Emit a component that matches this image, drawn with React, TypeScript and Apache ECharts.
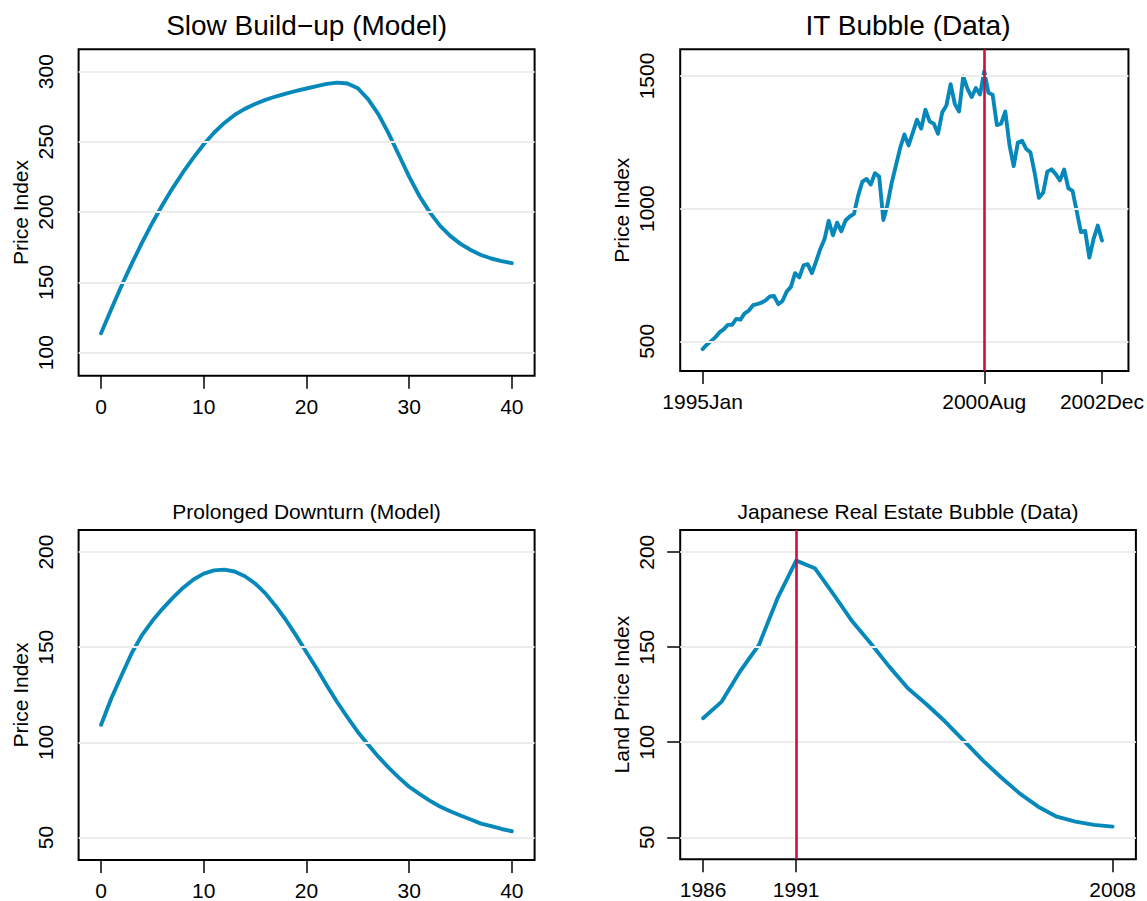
import React, { useEffect, useRef } from "react";
import * as echarts from "echarts";

// ---------- data ----------
const modelSteps = [0, 1, 2, 3, 4, 5, 6, 7, 8, 9, 10, 11, 12, 13, 14, 15, 16, 17, 18, 19, 20, 21, 22, 23, 24, 25, 26, 27, 28, 29, 30, 31, 32, 33, 34, 35, 36, 37, 38, 39, 40];
const slowBuildUp = [113.8, 131.0, 147.8, 163.5, 178.5, 192.5, 205.5, 217.5, 228.6, 238.8, 248.3, 256.5, 263.5, 269.2, 273.5, 277.0, 279.9, 282.3, 284.4, 286.3, 288.0, 289.7, 291.3, 292.2, 291.6, 288.2, 280.5, 269.8, 256.1, 240.7, 225.3, 211.5, 200.0, 190.4, 183.1, 177.4, 173.1, 169.5, 167.0, 165.2, 163.7];
const prolongedDownturn = [109.3, 123.2, 135.3, 147.1, 156.5, 163.9, 170.3, 176.1, 181.3, 185.6, 188.7, 190.4, 190.8, 189.8, 187.3, 183.5, 178.3, 171.7, 164.3, 156.1, 147.4, 138.8, 129.8, 121.1, 113.1, 105.5, 98.9, 92.5, 86.7, 81.5, 76.7, 72.9, 69.4, 66.3, 63.8, 61.6, 59.5, 57.3, 56.0, 54.5, 53.3];

// IT bubble: monthly index, 1995 Jan .. 2002 Dec (month number 0..95)
const itIndex = [
  470.4, 487.4, 500.7, 514.7, 533.4, 544.8, 562.1, 561.9, 584.4, 581.5, 605.4, 615.9,
  636.0, 640.4, 645.5, 654.2, 669.1, 670.6, 640.0, 652.0, 687.3, 705.3, 757.0, 740.7,
  786.2, 790.8, 757.1, 801.3, 848.3, 885.1, 954.3, 899.5, 947.3, 914.6, 955.4, 970.4,
  980.3, 1049.3, 1101.8, 1111.8, 1090.8, 1133.8, 1120.7, 957.3, 1017.0, 1098.7, 1163.6, 1229.2,
  1279.6, 1238.3, 1286.4, 1335.2, 1301.8, 1372.7, 1328.7, 1320.4, 1282.7, 1362.9, 1388.9, 1469.3,
  1394.5, 1366.4, 1498.6, 1452.4, 1420.6, 1454.6, 1430.8, 1517.7, 1436.5, 1429.4, 1315.0, 1320.3,
  1366.0, 1239.9, 1160.3, 1249.5, 1255.8, 1224.4, 1211.2, 1133.6, 1040.9, 1059.8, 1139.5, 1148.1,
  1130.2, 1106.7, 1147.4, 1076.9, 1067.1, 989.8, 911.6, 916.1, 815.3, 885.8, 936.3, 879.8,
];
const itTickMonths = [0, 67, 95];
const itTickLabels = ["1995Jan", "2000Aug", "2002Dec"];
const itPeakMonth = 67;

const japanYears = [1986, 1987, 1988, 1989, 1990, 1991, 1992, 1993, 1994, 1995, 1996, 1997, 1998, 1999, 2000, 2001, 2002, 2003, 2004, 2005, 2006, 2007, 2008];
const japanLand = [112.6, 121.4, 137.5, 151.2, 175.8, 195.6, 191.6, 177.9, 163.8, 152.1, 139.8, 128.4, 120.0, 110.9, 100.9, 90.7, 81.6, 73.1, 66.1, 60.8, 58.2, 56.5, 55.6];
const japanTickYears = [1986, 1991, 2008];
const japanPeakYear = 1991;

const modelXTicks = [0, 10, 20, 30, 40];
const slowYTicks = [100, 150, 200, 250, 300];
const itYTicks = [500, 1000, 1500];
const downYTicks = [50, 100, 150, 200];
const japanYTicks = [50, 100, 150, 200];

const titles = ["Slow Build\u2212up (Model)", "IT Bubble (Data)", "Prolonged Downturn (Model)", "Japanese Real Estate Bubble (Data)"];

// ---------- styling ----------
const FONT = '"Liberation Sans", Arial, Helvetica, sans-serif';
const BLUE = "#0689ba";
const RED = "#cc1040";
const GRID_GRAY = "#ececec";
const LABEL_SIZE = 21;

const grids = [
  { left: 78.6, top: 49.3, width: 456, height: 326.4 },
  { left: 680.2, top: 49.3, width: 455.7, height: 321.7 },
  { left: 78.6, top: 530, width: 456, height: 333.3 },
  { left: 680.2, top: 530, width: 455.7, height: 329.3 },
];

function xAxis(gridIndex: number, min: number, max: number, ticks: number[], fmt?: (v: number) => string) {
  return {
    type: "value",
    gridIndex,
    min,
    max,
    axisLine: { show: false },
    splitLine: { show: false },
    axisTick: { show: true, length: 13, customValues: ticks, lineStyle: { color: "#000", width: 1.5 } },
    axisLabel: {
      customValues: ticks,
      margin: 20,
      fontSize: LABEL_SIZE,
      color: "#000",
      fontFamily: FONT,
      formatter: fmt ? (v: number) => fmt(v) : (v: number) => String(v),
    },
  };
}

function yAxis(gridIndex: number, min: number, max: number, ticks: number[], name: string) {
  return {
    type: "value",
    gridIndex,
    min,
    max,
    name,
    nameLocation: "middle",
    nameGap: 48,
    nameTextStyle: { fontSize: LABEL_SIZE, color: "#000", fontFamily: FONT },
    axisLine: { show: false },
    splitLine: { show: false },
    axisTick: { show: true, length: 13, customValues: ticks, lineStyle: { color: "#000", width: 1.5 } },
    axisLabel: {
      customValues: ticks,
      rotate: 90,
      margin: 23,
      fontSize: LABEL_SIZE,
      color: "#000",
      fontFamily: FONT,
      formatter: (v: number) => String(v),
    },
  };
}

function gridLines(i: number, ticks: number[]) {
  return {
    type: "line",
    xAxisIndex: i,
    yAxisIndex: i,
    data: [],
    silent: true,
    z: 1,
    markLine: {
      silent: true,
      symbol: ["none", "none"],
      label: { show: false },
      lineStyle: { color: GRID_GRAY, width: 2, type: "solid" },
      data: ticks.map((v) => ({ yAxis: v })),
    },
  };
}

function dataLine(i: number, xs: number[], ys: number[]) {
  return {
    type: "line",
    xAxisIndex: i,
    yAxisIndex: i,
    data: xs.map((x, k) => [x, ys[k]]),
    showSymbol: false,
    symbol: "none",
    z: 3,
    lineStyle: { color: BLUE, width: 3.9, cap: "round", join: "round" },
  };
}

function vLine(i: number, x: number) {
  return {
    type: "line",
    xAxisIndex: i,
    yAxisIndex: i,
    data: [],
    silent: true,
    z: 2,
    markLine: {
      silent: true,
      symbol: ["none", "none"],
      label: { show: false },
      lineStyle: { color: RED, width: 2.6, type: "solid" },
      data: [{ xAxis: x }],
    },
  };
}

export default function App() {
  const ref = useRef<HTMLDivElement>(null);
  useEffect(() => {
    document.body.style.margin = "0";
    const chart = echarts.init(ref.current!, undefined, { renderer: "svg" });
    const months = itIndex.map((_, k) => k);
    const option = {
      animation: false,
      backgroundColor: "#fff",
      textStyle: { fontFamily: FONT },
      grid: grids.map((g) => ({ ...g, show: true, borderColor: "#000", borderWidth: 2, backgroundColor: "rgba(0,0,0,0)" })),
      xAxis: [
        xAxis(0, -2.19, 42.22, modelXTicks),
        xAxis(1, -5.33, 101.3, itTickMonths, (v) => itTickLabels[itTickMonths.indexOf(v)] ?? ""),
        xAxis(2, -2.19, 42.22, modelXTicks),
        xAxis(3, 1984.77, 2009.25, japanTickYears),
      ],
      yAxis: [
        yAxis(0, 83.6, 315.9, slowYTicks, "Price Index"),
        yAxis(1, 388.1, 1600.6, itYTicks, "Price Index"),
        yAxis(2, 38.2, 211.6, downYTicks, "Price Index"),
        yAxis(3, 38.4, 211.7, japanYTicks, "Land Price Index"),
      ],
      graphic: [
        { type: "text", x: 306.6, y: 25.3, style: { text: titles[0], fontSize: 28, fontFamily: FONT, fill: "#000", align: "center", verticalAlign: "middle" } },
        { type: "text", x: 908, y: 25.3, style: { text: titles[1], fontSize: 28, fontFamily: FONT, fill: "#000", align: "center", verticalAlign: "middle" } },
        { type: "text", x: 306.6, y: 511, style: { text: titles[2], fontSize: 21, fontFamily: FONT, fill: "#000", align: "center", verticalAlign: "middle" } },
        { type: "text", x: 908, y: 511, style: { text: titles[3], fontSize: 21, fontFamily: FONT, fill: "#000", align: "center", verticalAlign: "middle" } },
      ],
      series: [
        gridLines(0, slowYTicks),
        gridLines(1, itYTicks),
        gridLines(2, downYTicks),
        gridLines(3, japanYTicks),
        vLine(1, itPeakMonth),
        vLine(3, japanPeakYear),
        dataLine(0, modelSteps, slowBuildUp),
        dataLine(1, months, itIndex),
        dataLine(2, modelSteps, prolongedDownturn),
        dataLine(3, japanYears, japanLand),
      ],
    };
    chart.setOption(option as any);
    return () => chart.dispose();
  }, []);
  return <div ref={ref} style={{ position: "fixed", left: 0, top: 0, width: 1147, height: 901 }} />;
}
